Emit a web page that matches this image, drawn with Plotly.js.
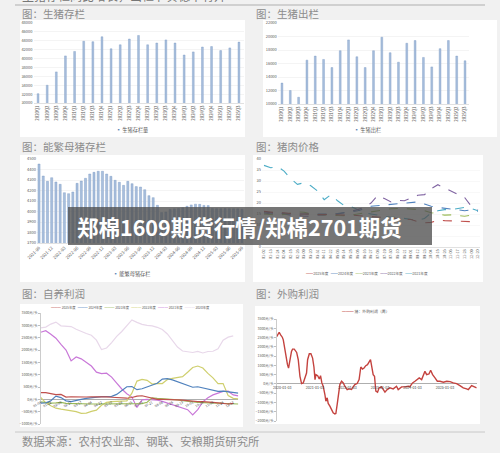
<!DOCTYPE html>
<html><head><meta charset="utf-8">
<script src="https://cdn.plot.ly/plotly-3.0.1.min.js"></script>
<style>html,body{margin:0;padding:0;background:#f1f1f1;}#chart{width:500px;height:453px;}</style>
</head><body><div id="chart"></div>
<script>
// ---------- DATA ----------
const quarters = ["2020Q1","2020Q2","2020Q3","2020Q4","2021Q1","2021Q2","2021Q3","2021Q4","2022Q1","2022Q2","2022Q3","2022Q4","2023Q1","2023Q2","2023Q3","2023Q4","2024Q1","2024Q2","2024Q3","2024Q4","2025Q1","2025Q2","2025Q3"];
const hogStock = [32100,34000,37000,40600,41600,43900,43800,44900,42200,43100,44400,45200,43100,43500,44200,43500,40800,41500,42600,42700,41800,42400,43700];
const hogSlaughter = [13100,12000,11000,16500,17100,16600,15400,17900,19500,17000,15400,17900,19900,17600,16200,19000,19400,16900,15500,18200,19400,17100,16400];

const sowMonths = ["2021-09","2021-10","2021-11","2021-12","2022-01","2022-02","2022-03","2022-04","2022-05","2022-06","2022-07","2022-08","2022-09","2022-10","2022-11","2022-12","2023-01","2023-02","2023-03","2023-04","2023-05","2023-06","2023-07","2023-08","2023-09","2023-10","2023-11","2023-12","2024-01","2024-02","2024-03","2024-04","2024-05","2024-06","2024-07","2024-08","2024-09","2024-10","2024-11","2024-12","2025-01","2025-02","2025-03","2025-04","2025-05","2025-06","2025-07","2025-08","2025-09"];
const sowStock = [4452,4338,4287,4322,4281,4259,4179,4170,4186,4268,4290,4316,4357,4373,4383,4383,4357,4335,4297,4278,4249,4287,4265,4237,4233,4208,4151,4132,4059,3990,3995,4020,4025,4028,4035,4050,4063,4070,4068,4058,4056,4028,4027,4027,4028,4027,4026,4025,4022];

const weekLabels = ["01-02","01-13","01-24","02-04","02-15","02-26","03-09","03-20","03-31","04-11","04-22","05-03","05-14","05-25","06-05","06-16","06-27","07-08","07-19","07-30","08-10","08-21","09-01","09-12","09-23","10-04","10-15","10-26","11-06","11-17","11-28","12-09","12-20"];
const price2025 = [16.2,15.8,15.5,15.5,15.2,15.0,15.0,14.8,14.8,14.8,14.6,14.5,14.5,14.5,14.3,14.0,14.0,13.8,13.5,13.2,13.0,12.8,12.5,11.5,11.0,11.2,12.2,12.0,11.8,11.6,11.6,11.5,11.7];
const price2024 = [16.0,15.5,16.0,15.2,15.0,15.0,14.8,14.8,14.8,15.0,15.0,15.2,15.5,16.0,16.5,17.3,18.5,18.8,19.0,19.2,19.5,19.8,20.0,20.5,19.5,18.5,18.0,17.6,17.2,16.8,16.5,16.8,16.2];
const price2023 = [15.0,14.8,14.5,14.8,15.5,16.0,15.8,15.0,14.8,14.5,14.5,14.3,14.2,14.5,15.0,15.5,16.0,16.5,17.0,17.4,17.5,17.5,17.3,17.0,16.5,15.6,15.0,14.5,14.6,14.3,14.0,14.5,15.0];
const price2022 = [15.5,15.0,15.5,15.0,14.5,14.5,14.0,14.0,14.5,14.5,15.0,15.0,15.5,16.2,17.0,18.0,20.0,23.5,22.0,20.5,21.2,21.0,22.3,23.5,23.8,26.5,28.3,26.8,25.5,24.0,22.5,18.5,17.0];
const price2021 = [37.1,36.0,36.6,34.5,31.0,28.5,29.2,27.8,25.5,21.5,23.8,21.0,18.8,18.3,17.0,15.5,15.0,14.5,14.0,13.5,13.5,13.0,12.5,12.0,13.0,15.5,16.5,17.0,17.0,17.5,18.0,17.5,16.5];

const profitDates = ["01-04","01-13","01-22","01-31","02-09","02-18","02-27","03-08","03-17","03-26","04-04","04-13","04-22","05-01","05-10","05-19","05-28","06-06","06-15","06-24","07-03","07-12","07-21","07-30","08-08","08-17","08-26","09-04","09-13","09-22","10-01","10-10","10-19","10-28","11-06","11-15","11-24","12-03","12-12","12-21"];
const own2025 = [270,270,230,190,200,90,105,95,90,95,100,105,108,100,85,80,75,45,75,130,145,100,40,0,0,0,10,-20,-30,-60,-80,-95,-95,-100,-120,-140,-170,-190,-165,null];
const own2024 = [-150,-140,-60,130,70,-60,-90,-30,0,40,70,90,108,110,120,200,360,510,520,390,430,510,580,650,820,840,790,720,650,560,490,510,460,430,380,320,330,300,280,250];
const own2023 = [-100,-130,-150,-140,-120,-160,-170,-180,-180,-185,-190,-190,-190,-180,-185,-190,-190,-195,-190,-185,-170,-120,60,40,30,10,0,-20,-50,-80,-100,-120,-130,-140,-150,-160,-170,-180,-190,-190];
const own2022 = [80,-140,-260,-360,-400,-430,-450,-500,-570,-560,-490,-440,-240,-120,-90,-70,-80,-60,250,740,810,770,620,650,640,800,850,870,920,1100,1290,1350,1270,1050,870,640,640,150,40,20];
const own2021 = [2720,2780,2640,2480,2230,2000,1560,1720,1640,1500,1350,1100,1040,1060,900,660,420,230,90,-330,-20,0,-10,-30,-80,-150,-200,-270,-330,-420,-630,-420,-100,60,180,260,320,330,180,140];
const own2020 = [2900,2930,3050,3130,2980,2950,2950,2840,2740,2670,2600,2400,2020,2080,2300,2550,2750,2980,3220,3120,3040,3000,2980,2920,2830,2650,2380,2120,1960,1940,1900,1940,1880,1940,1950,2050,2400,2520,2575,null];

const outDates = ["2019-11-01","2019-11-17","2019-11-29","2019-12-15","2020-01-03","2020-01-14","2020-01-25","2020-02-10","2020-03-01","2020-03-13","2020-03-28","2020-04-15","2020-04-27","2020-05-16","2020-06-12","2020-06-30","2020-07-19","2020-08-06","2020-08-25","2020-09-13","2020-10-01","2020-10-13","2020-11-01","2020-11-19","2020-12-08","2020-12-23","2021-01-04","2021-01-15","2021-02-03","2021-02-21","2021-03-07","2021-03-22","2021-04-06","2021-04-25","2021-05-06","2021-05-21","2021-06-01","2021-06-20","2021-07-08","2021-07-27","2021-08-15","2021-08-26","2021-09-10","2021-09-25","2021-10-10","2021-10-29","2021-11-17","2021-12-05","2021-12-31","2022-01-23","2022-02-18","2022-03-08","2022-03-27","2022-04-22","2022-05-14","2022-06-02","2022-06-21","2022-07-09","2022-07-28","2022-08-16","2022-09-04","2022-09-19","2022-10-04","2022-10-19","2022-11-03","2022-11-18","2022-12-07","2022-12-25","2023-01-21","2023-02-09","2023-02-28","2023-03-25","2023-04-24","2023-06-01","2023-07-08","2023-07-27","2023-09-03","2023-10-10","2023-11-17","2023-12-05","2024-01-04","2024-01-31","2024-02-19","2024-03-19","2024-04-15","2024-05-03","2024-05-22","2024-06-10","2024-07-06","2024-07-25","2024-08-16","2024-09-12","2024-10-08","2024-11-07","2024-12-15","2025-01-22","2025-02-28","2025-04-05","2025-05-12","2025-06-19","2025-07-26","2025-09-02","2025-09-21","2025-10-28","2025-11-16","2025-12-24"];
const outProfit = [2554,2732,2786,2643,2518,2375,2018,1750,1036,857,1304,1750,1875,1875,1696,1304,411,18,54,411,589,1304,1625,1625,1393,911,232,500,446,268,446,54,-125,-571,-929,-750,-1054,-1196,-1411,-1554,-1625,-1600,-1107,-571,-36,143,54,-125,-304,-268,-304,-161,-36,18,232,911,804,857,982,1036,1214,1304,911,500,411,-393,-446,-214,-161,-304,-446,-304,-214,-268,-125,-304,-161,-161,-125,-150,54,143,232,321,232,411,679,500,536,732,500,321,143,143,89,143,125,54,18,-89,-214,-268,-304,-89,-120,-214];
const yearTicks = ["2020-01-03","2021-01-03","2022-01-03","2023-01-03","2024-01-03","2025-01-03"];

// ---------- LAYOUT HELPERS ----------
const W = 500, H = 453;
const px = x => x / W;
const py = y => 1 - y / H;
const FAM = 'Noto Sans CJK SC, Noto Sans, sans-serif';
const tickFont = {size: 4, color: '#595959', family: FAM};
const barMarker = {color: '#a9bfdd', line: {color: '#6a8dbd', width: 0.35}};
const C = {r: '#c0504d', b: '#4f81bd', g: '#9bbb59', p: '#8064a2', c: '#4bacc6', y: '#cfcf6e', m: '#c978d8', l: '#e8d8ea'};

const traces = [
  {type: 'bar', x: quarters, y: hogStock, xaxis: 'x', yaxis: 'y', width: 0.2, marker: barMarker},
  {type: 'bar', x: quarters, y: hogSlaughter, xaxis: 'x2', yaxis: 'y2', width: 0.22, marker: barMarker},
  {type: 'bar', x: sowMonths, y: sowStock, xaxis: 'x3', yaxis: 'y3', width: 0.5, marker: barMarker},
  {type: 'scatter', mode: 'lines', x: weekLabels, y: price2021, xaxis: 'x4', yaxis: 'y4', line: {color: C.c, width: 1.1, dash: 'dash'}},
  {type: 'scatter', mode: 'lines', x: weekLabels, y: price2022, xaxis: 'x4', yaxis: 'y4', line: {color: C.p, width: 1.1, dash: 'dash'}},
  {type: 'scatter', mode: 'lines', x: weekLabels, y: price2023, xaxis: 'x4', yaxis: 'y4', line: {color: C.g, width: 1.1, dash: 'dash'}},
  {type: 'scatter', mode: 'lines', x: weekLabels, y: price2024, xaxis: 'x4', yaxis: 'y4', line: {color: C.b, width: 1.1, dash: 'dash'}},
  {type: 'scatter', mode: 'lines', x: weekLabels, y: price2025, xaxis: 'x4', yaxis: 'y4', line: {color: C.r, width: 1.1, dash: 'dash'}},
  {type: 'scatter', mode: 'lines', x: profitDates, y: own2020, xaxis: 'x5', yaxis: 'y5', line: {color: C.l, width: 1.2}},
  {type: 'scatter', mode: 'lines', x: profitDates, y: own2021, xaxis: 'x5', yaxis: 'y5', line: {color: C.m, width: 1.2}},
  {type: 'scatter', mode: 'lines', x: profitDates, y: own2022, xaxis: 'x5', yaxis: 'y5', line: {color: C.y, width: 1.2}},
  {type: 'scatter', mode: 'lines', x: profitDates, y: own2023, xaxis: 'x5', yaxis: 'y5', line: {color: C.g, width: 1.2}},
  {type: 'scatter', mode: 'lines', x: profitDates, y: own2024, xaxis: 'x5', yaxis: 'y5', line: {color: C.b, width: 1.2}},
  {type: 'scatter', mode: 'lines', x: profitDates, y: own2025, xaxis: 'x5', yaxis: 'y5', line: {color: C.r, width: 1.2}},
  {type: 'scatter', mode: 'lines', x: outDates, y: outProfit, xaxis: 'x6', yaxis: 'y6', line: {color: '#c4433f', width: 1.4}}
];

const catX = (d0, d1, range, extra) => Object.assign({domain: [px(d0), px(d1)], type: 'category', range: range,
  tickfont: Object.assign({}, tickFont, {size: 4.3}), showline: true, linecolor: '#d9d9d9', linewidth: 0.8,
  ticks: '', showgrid: false, zeroline: false, fixedrange: true}, extra || {});
const gridY = (y0, y1, range, dtick, extra) => Object.assign({domain: [py(y0), py(y1)], range: range, dtick: dtick,
  tickformat: 'd', tickfont: tickFont, showgrid: true, gridcolor: '#ececec', gridwidth: 0.6, zeroline: false,
  showline: false, ticks: '', fixedrange: true}, extra || {});

const layout = {
  width: W, height: H, margin: {l: 0, r: 0, t: 0, b: 0},
  paper_bgcolor: '#f1f1f1', plot_bgcolor: '#ffffff', showlegend: false, hovermode: false,
  font: {family: FAM},
  xaxis: catX(33.5, 243.5, [-0.5, 22.5], {anchor: 'y', tickangle: -90}),
  yaxis: gridY(103, 23, [30000, 48000], 2000, {anchor: 'x'}),
  xaxis2: catX(277.8, 469.2, [-0.5, 22.5], {anchor: 'y2', tickangle: -90}),
  yaxis2: gridY(104, 23, [10000, 22000], 2000, {anchor: 'x2'}),
  xaxis3: catX(36.9, 244.1, [-0.5, 48.5], {anchor: 'y3', tickangle: -45, tickmode: 'array',
    tickvals: sowMonths.filter((m, i) => i % 3 === 0)}),
  yaxis3: gridY(243, 159, [3700, 4500], 100, {anchor: 'x3'}),
  xaxis4: catX(262, 480, [-0.3, 32.3], {anchor: 'y4', tickangle: -90, tickfont: Object.assign({}, tickFont, {size: 3.8})}),
  yaxis4: gridY(247, 159, [0, 40], 5, {anchor: 'x4', gridcolor: '#f3f3f3'}),
  xaxis5: {domain: [px(40.7), px(238.3)], anchor: 'free', position: py(399), type: 'category', range: [0, 39],
    tickmode: 'array', tickvals: profitDates.filter((d, i) => i % 2 === 0), tickangle: -30,
    tickfont: {size: 3.4, color: '#404040', family: FAM}, showline: false, ticks: '', showgrid: false, zeroline: false, fixedrange: true},
  yaxis5: {domain: [py(424), py(313)], anchor: 'x5', range: [-1000, 3500], dtick: 500, tickformat: 'd', ticksuffix: '元/头',
    tickfont: Object.assign({}, tickFont, {size: 3.5}), showline: true, linecolor: '#bfbfbf', linewidth: 0.8,
    ticks: 'outside', ticklen: 1.5, tickcolor: '#bfbfbf', showgrid: false, zeroline: true, zerolinecolor: '#8c8c8c',
    zerolinewidth: 0.7, fixedrange: true},
  xaxis6: {domain: [px(276.7), px(476.7)], anchor: 'free', position: py(384), type: 'date',
    range: [outDates[0], outDates[outDates.length - 1]], tickmode: 'array', tickvals: yearTicks, ticktext: yearTicks,
    tickfont: {size: 3.6, color: '#404040', family: FAM}, showline: false, ticks: '', showgrid: false, zeroline: false, fixedrange: true},
  yaxis6: {domain: [py(421), py(319)], anchor: 'x6', range: [-2000, 3500], dtick: 500, tickformat: 'd', ticksuffix: '元/头',
    tickfont: Object.assign({}, tickFont, {size: 3.5}), showline: true, linecolor: '#bfbfbf', linewidth: 0.8,
    ticks: 'outside', ticklen: 1.5, tickcolor: '#bfbfbf', showgrid: false, zeroline: true, zerolinecolor: '#8c8c8c',
    zerolinewidth: 0.7, fixedrange: true},
  shapes: [],
  annotations: []
};

// white report panels
[[20, 245, 20, 137], [263, 497, 20, 137], [20, 245, 155, 282], [253, 483, 155, 282], [20, 243, 304, 427], [255, 480, 306, 424]]
  .forEach(b => layout.shapes.push({type: 'rect', xref: 'paper', yref: 'paper', x0: px(b[0]), x1: px(b[1]),
    y0: py(b[3]), y1: py(b[2]), fillcolor: '#ffffff', line: {width: 0}, layer: 'below'}));
// separator lines
layout.shapes.push({type: 'line', xref: 'paper', yref: 'paper', x0: px(15), x1: px(485), y0: py(5), y1: py(5), line: {color: '#c4c4c4', width: 1.6}});
layout.shapes.push({type: 'line', xref: 'paper', yref: 'paper', x0: px(15), x1: px(485), y0: py(432), y1: py(432), line: {color: '#c8c8c8', width: 1}});
// banner
layout.shapes.push({type: 'rect', xref: 'paper', yref: 'paper', x0: px(68), x1: px(432), y0: py(245), y1: py(207),
  fillcolor: 'rgba(80,80,80,0.78)', line: {width: 0}, layer: 'above'});

const ann = (x, y, text, size, color, anchor, extra) => layout.annotations.push(Object.assign({xref: 'paper', yref: 'paper',
  x: px(x), y: py(y), text: text, showarrow: false, xanchor: anchor || 'left', yanchor: 'middle',
  font: {size: size, color: color, family: FAM}}, extra || {}));

ann(20, -4, '生猪存栏同比增长，出栏节奏稳中有升', 12, '#777777');
ann(20, 13, '图：生猪存栏', 10.5, '#8c8c8c');
ann(254, 13, '图：生猪出栏', 10.5, '#8c8c8c');
ann(20, 146, '图：能繁母猪存栏', 10.5, '#8c8c8c');
ann(254, 146, '图：猪肉价格', 10.5, '#8c8c8c');
ann(20, 293, '图：自养利润', 10.5, '#8c8c8c');
ann(254, 293, '图：外购利润', 10.5, '#8c8c8c');
ann(20, 441, '数据来源：农村农业部、钢联、安粮期货研究所', 11.3, '#8c8c8c');

const sw = (c, s) => '<span style="color:' + c + '">' + s + '</span>';
ann(132, 130, sw('#5e83b5', '▪') + ' 生猪存栏量', 5.2, '#595959', 'center');
ann(367, 130, sw('#5e83b5', '▪') + ' 生猪出栏', 5.2, '#595959', 'center');
ann(132, 274, sw('#5e83b5', '▪') + ' 能繁母猪存栏', 5.2, '#595959', 'center');
ann(367, 273, [[C.r, '2025年度'], [C.b, '2024年度'], [C.g, '2023年度'], [C.p, '2022年度'], [C.c, '2021年度']]
  .map(e => sw(e[0], '━━') + e[1]).join('   '), 3.6, '#595959', 'center');
ann(130, 307, [[C.r, '2025年度'], [C.b, '2024年度'], [C.g, '2023年度'], [C.y, '2022年度'], [C.m, '2021年度'], [C.l, '2020年度']]
  .map(e => sw(e[0], '━━━') + ' ' + e[1]).join('   '), 3.3, '#595959', 'center');
ann(366, 311, sw('#c4433f', '━━━') + ' 猪：外购利润（周）', 3.9, '#595959', 'center');

ann(239, 226, '<b>郑棉1609期货行情/郑棉2701期货</b>', 21.5, '#ffffff', 'center');

Plotly.newPlot('chart', traces, layout, {staticPlot: true, displayModeBar: false});
</script></body></html>
